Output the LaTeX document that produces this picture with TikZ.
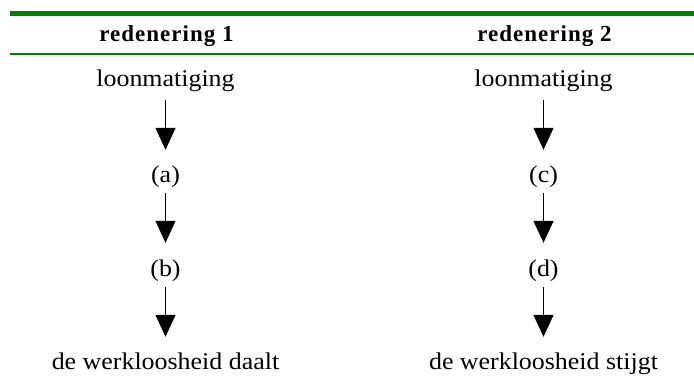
\documentclass[tikz,border=0pt]{standalone}
\usepackage{fontspec}
\setmainfont{Liberation Serif}[FakeStretch=1.08]
\newfontfamily\headfont{Liberation Serif}[LetterSpace=4.5]
\usetikzlibrary{arrows.meta}
\definecolor{rulegreen}{RGB}{0,128,0}
\tikzset{
  txt/.style={anchor=base, inner sep=0pt, text height=16pt, text depth=5pt, font=\fontsize{24}{28}\selectfont},
  head/.style={anchor=base, inner sep=0pt, font=\headfont\fontsize{23}{27}\selectfont\bfseries},
  arr/.style={line width=1.4pt, -{Triangle[width=20pt,length=22pt]}},
  greenrule/.style={rulegreen}
}
\begin{document}
\begin{tikzpicture}[x=1pt,y=-1pt]
\useasboundingbox (0,0) rectangle (694,376);
\coordinate (r1l) at (10,13.5);
\coordinate (r1r) at (694,13.5);
\coordinate (r2l) at (10,54);
\coordinate (r2r) at (694,54);
\draw[greenrule, line width=5pt] (r1l) -- (r1r);
\draw[greenrule, line width=2.2pt] (r2l) -- (r2r);

\node[head] (h1) at (166.5,41) {redenering 1};
\node[head] (h2) at (544.5,41) {redenering 2};

\node[txt] (l1) at (165.5,86) {loonmatiging};
\node[txt] (a1) at (165.5,182) {(a)};
\node[txt] (b1) at (165.5,276) {(b)};
\node[txt] (e1) at (165.5,369) {de werkloosheid daalt};

\node[txt] (l2) at (543.5,86) {loonmatiging};
\node[txt] (c2) at (543.5,182) {(c)};
\node[txt] (d2) at (543.5,276) {(d)};
\node[txt] (e2) at (543.5,369) {de werkloosheid stijgt};

\draw[arr, shorten <=9pt, shorten >=16pt] (l1.south) -- (a1.north);
\draw[arr, shorten <=6pt, shorten >=17pt] (a1.south) -- (b1.north);
\draw[arr, shorten <=6pt, shorten >=16pt] (b1.south) -- (e1.north);
\draw[arr, shorten <=9pt, shorten >=16pt] (l2.south) -- (c2.north);
\draw[arr, shorten <=6pt, shorten >=17pt] (c2.south) -- (d2.north);
\draw[arr, shorten <=6pt, shorten >=16pt] (d2.south) -- (e2.north);
\end{tikzpicture}
\end{document}
